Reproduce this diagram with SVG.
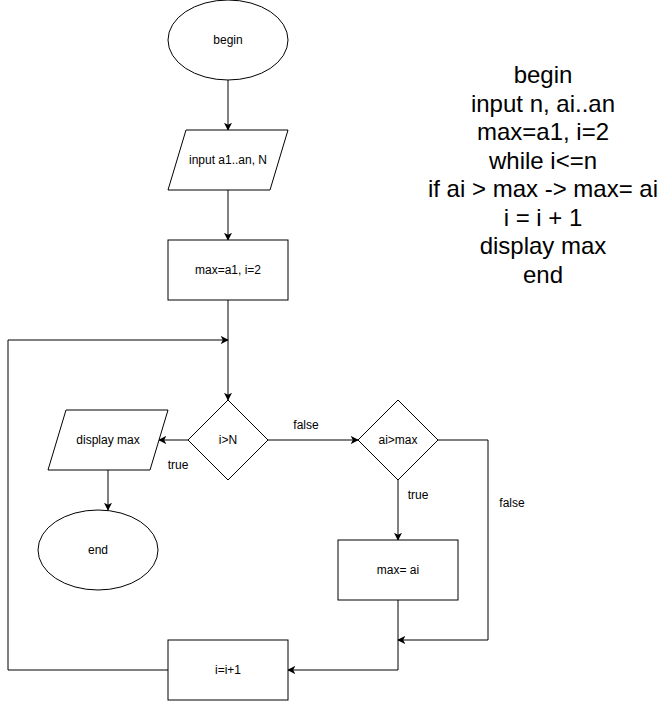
<svg xmlns="http://www.w3.org/2000/svg" width="668" height="701" viewBox="0 0 668 701">
<style>
.s{fill:#fff;stroke:#000;stroke-width:1}
.t{font-family:"Liberation Sans",Arial,sans-serif;font-size:12px;fill:#000;text-anchor:middle}
.l{font-family:"Liberation Sans",Arial,sans-serif;font-size:12px;fill:#000;text-anchor:middle}
.c{fill:none;stroke:#000;stroke-width:1}
.big{font-family:"Liberation Sans",Arial,sans-serif;font-size:24px;fill:#000;text-anchor:middle}
</style>
<defs>
<marker id="a" viewBox="0 0 10 10" refX="9" refY="5" markerWidth="8" markerHeight="8" markerUnits="userSpaceOnUse" orient="auto">
<path d="M0,0 L10,5 L0,10 L2.5,5 Z" fill="#000"/>
</marker>
</defs>
<rect width="668" height="701" fill="#fff"/>
<g id="connectors">
<path class="c" d="M228,80 V130" marker-end="url(#a)"/>
<path class="c" d="M228,190 V240" marker-end="url(#a)"/>
<path class="c" d="M228,300 V400" marker-end="url(#a)"/>
<path class="c" d="M188,440 H159" marker-end="url(#a)"/>
<path class="c" d="M108,470 V510" marker-end="url(#a)"/>
<path class="c" d="M268,440 H358" marker-end="url(#a)"/>
<path class="c" d="M398,480 V540" marker-end="url(#a)"/>
<path class="c" d="M438,440 H488 V640 H398" marker-end="url(#a)"/>
<path class="c" d="M398,600 V670 H288" marker-end="url(#a)"/>
<path class="c" d="M168,670 H8 V340 H228" marker-end="url(#a)"/>
<text class="l" x="178" y="469">true</text>
<text class="l" x="306" y="429">false</text>
<text class="l" x="418" y="499">true</text>
<text class="l" x="512" y="507">false</text>
</g>
<g id="begin"><ellipse class="s" cx="228" cy="40" rx="60" ry="40"/><text class="t" x="228" y="44">begin</text></g>
<g id="input"><polygon class="s" points="186,130 288,130 270,190 168,190"/><text class="t" x="228" y="164">input a1..an, N</text></g>
<g id="init"><rect class="s" x="168" y="240" width="120" height="60"/><text class="t" x="228" y="274">max=a1, i=2</text></g>
<g id="cond1"><polygon class="s" points="228,400 268,440 228,480 188,440"/><text class="t" x="228" y="444">i&gt;N</text></g>
<g id="display"><polygon class="s" points="66,410 168,410 150,470 48,470"/><text class="t" x="108" y="444">display max</text></g>
<g id="end"><ellipse class="s" cx="98" cy="550" rx="60" ry="40"/><text class="t" x="98" y="554">end</text></g>
<g id="cond2"><polygon class="s" points="398,400 438,440 398,480 358,440"/><text class="t" x="398" y="444">ai&gt;max</text></g>
<g id="assign"><rect class="s" x="338" y="540" width="120" height="60"/><text class="t" x="398" y="574">max= ai</text></g>
<g id="incr"><rect class="s" x="168" y="640" width="120" height="60"/><text class="t" x="228" y="674">i=i+1</text></g>
<g id="pseudocode">
<text class="big" x="543" y="83">begin</text>
<text class="big" x="543" y="111.5">input n, ai..an</text>
<text class="big" x="543" y="140">max=a1, i=2</text>
<text class="big" x="543" y="168.5">while i&lt;=n</text>
<text class="big" x="543" y="197">if ai &gt; max -&gt; max= ai</text>
<text class="big" x="543" y="225.5">i = i + 1</text>
<text class="big" x="543" y="254">display max</text>
<text class="big" x="543" y="282.5">end</text>
</g>
</svg>
